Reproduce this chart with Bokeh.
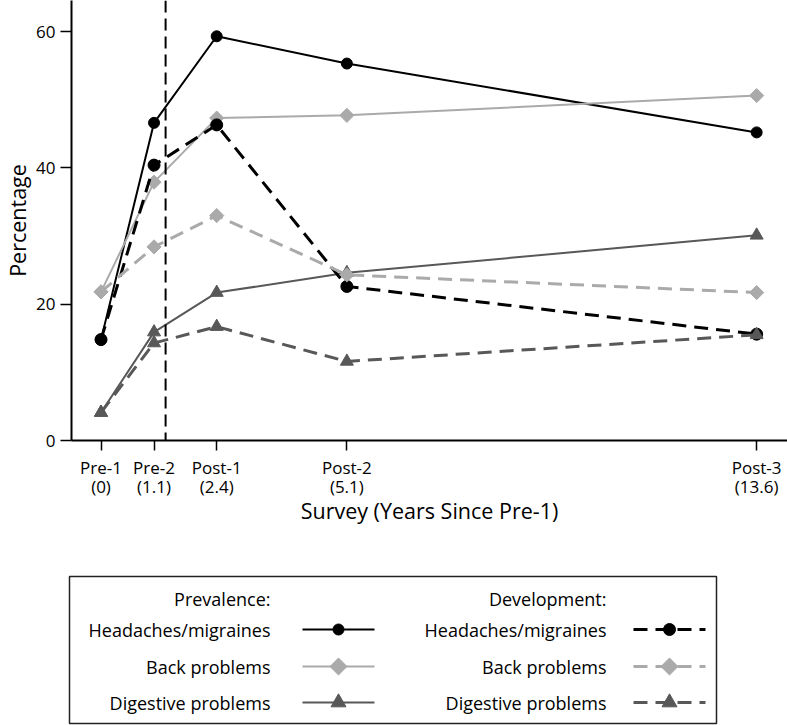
from bokeh.plotting import figure
from bokeh.models import Range1d, Span, FixedTicker
from bokeh.core.properties import value
from bokeh.embed import file_html
from bokeh.resources import INLINE
import math

# ---------------- data ----------------
years = [0, 1.1, 2.4, 5.1, 13.6]
survey_labels = ["Pre-1", "Pre-2", "Post-1", "Post-2", "Post-3"]
y_ticks = [0, 20, 40, 60]

prev_headache = [14.8, 46.6, 59.3, 55.3, 45.2]
prev_back = [21.8, 37.9, 47.3, 47.7, 50.6]
prev_digestive = [4.1, 15.9, 21.7, 24.6, 30.1]

dev_headache = [14.8, 40.4, 46.3, 22.6, 15.6]
dev_back = [21.8, 28.4, 33.0, 24.3, 21.7]
dev_digestive = [4.1, 14.3, 16.7, 11.6, 15.5]

intervention_year = 1.34

series_names = ["Headaches/migraines", "Back problems", "Digestive problems"]
group_titles = ["Prevalence:", "Development:"]

FONT = value("Open Sans")
BLACK = "#000000"
LIGHT = "#aaaaaa"
DARK = "#585858"
DASH = "14 8"

FRAME_H = 440
MAIN_BOTTOM = 120
MAIN_H = FRAME_H + MAIN_BOTTOM
FIG_W = 785

# ---------------- main plot ----------------
p = figure(frame_width=716, frame_height=FRAME_H, output_backend="svg", toolbar_location=None,
           x_range=Range1d(-0.612, 14.24), y_range=Range1d(0, 64.55),
           min_border_left=69, min_border_right=0, min_border_top=0,
           min_border_bottom=MAIN_BOTTOM)
p.outline_line_color = None
p.grid.grid_line_color = None
p.background_fill_color = "white"
p.border_fill_color = "white"

for ax in (p.xaxis[0], p.yaxis[0]):
    ax.axis_line_width = 2
    ax.axis_line_color = BLACK
    ax.major_tick_line_width = 1.5
    ax.major_tick_line_color = BLACK
    ax.major_tick_in = 0
    ax.minor_tick_line_color = None
    ax.major_label_text_font = "Open Sans"
    ax.major_label_text_font_size = "17px"
    ax.major_label_text_color = BLACK
    ax.axis_label_text_font = "Open Sans"
    ax.axis_label_text_font_size = "21.5px"
    ax.axis_label_text_font_style = "normal"
    ax.axis_label_text_color = BLACK

p.xaxis.ticker = FixedTicker(ticks=years)
p.xaxis.major_label_overrides = {yr: f"{lab}\n({yr:g})" for yr, lab in zip(years, survey_labels)}
p.xaxis.major_label_text_line_height = 0.86
p.xaxis.major_tick_out = 10
p.xaxis.major_label_standoff = 5
p.xaxis.axis_label = "Survey (Years Since Pre-1)"
p.xaxis.axis_label_standoff = -5

p.yaxis.ticker = FixedTicker(ticks=y_ticks)
p.yaxis.major_tick_out = 11
p.yaxis.major_label_standoff = 5
p.yaxis.major_label_orientation = "horizontal"
p.yaxis.axis_label = "Percentage"
p.yaxis.axis_label_standoff = 1

p.add_layout(Span(location=intervention_year, dimension="height", line_color=BLACK,
                  line_width=2, line_dash="12 6"))

def draw(vals, color, dashed, marker):
    lw = 3 if dashed else 2
    p.line(years, vals, line_color=color, line_width=lw,
           line_dash=DASH if dashed else "solid")
    if marker == "circle":
        p.scatter(years, vals, marker="circle", size=12 if dashed else 11,
                  fill_color=color, line_color=color)
    elif marker == "diamond":
        p.scatter(years, vals, marker="square", size=10, angle=math.pi / 4,
                  fill_color=color, line_color=color)
    else:
        p.scatter(years, vals, marker="triangle", size=13,
                  fill_color=color, line_color=color)

draw(prev_headache, BLACK, False, "circle")
draw(prev_back, LIGHT, False, "diamond")
draw(prev_digestive, DARK, False, "triangle")
draw(dev_headache, BLACK, True, "circle")
draw(dev_back, LIGHT, True, "diamond")
draw(dev_digestive, DARK, True, "triangle")

# ---------------- legend panel (coordinates = screen pixels) ----------------
top = MAIN_H
bottom = 725
lg = figure(width=FIG_W, height=bottom - top, output_backend="svg", toolbar_location=None,
            x_range=Range1d(0, FIG_W), y_range=Range1d(bottom, top),
            min_border=0, min_border_left=0, min_border_right=0,
            min_border_top=0, min_border_bottom=0)
lg.axis.visible = False
lg.grid.grid_line_color = None
lg.outline_line_color = None

lg.quad(left=[69], right=[716], top=[576], bottom=[723], fill_color=None,
        line_color="#222222", line_width=1.5)

head_y = 598
row_y = [629, 666, 702]
colors = [BLACK, LIGHT, DARK]
markers = ["circle", "diamond", "triangle"]
label_right = [270, 606]
sym_left = [302, 633]
sym_len = 72

for g in range(2):
    lg.text([label_right[g]], [head_y], text=[group_titles[g]], text_align="right",
            text_baseline="middle", text_font=FONT, text_font_size="18px",
            text_color=BLACK)
    for i in range(3):
        y = row_y[i]
        lg.text([label_right[g]], [y], text=[series_names[i]], text_align="right",
                text_baseline="middle", text_font=FONT, text_font_size="18px",
                text_color=BLACK)
        x0 = sym_left[g]
        xm = x0 + sym_len / 2
        lg.line([x0, x0 + sym_len], [y, y], line_color=colors[i],
                line_width=3 if g == 1 else 2, line_dash=DASH if g == 1 else "solid")
        if markers[i] == "circle":
            lg.scatter([xm], [y], marker="circle", size=12 if g == 1 else 11,
                       fill_color=colors[i], line_color=colors[i])
        elif markers[i] == "diamond":
            lg.scatter([xm], [y], marker="square", size=12, angle=math.pi / 4,
                       fill_color=colors[i], line_color=colors[i])
        else:
            lg.scatter([xm], [y], marker="triangle", size=15,
                       fill_color=colors[i], line_color=colors[i])

open("out.html", "w").write(file_html([p, lg], INLINE))
